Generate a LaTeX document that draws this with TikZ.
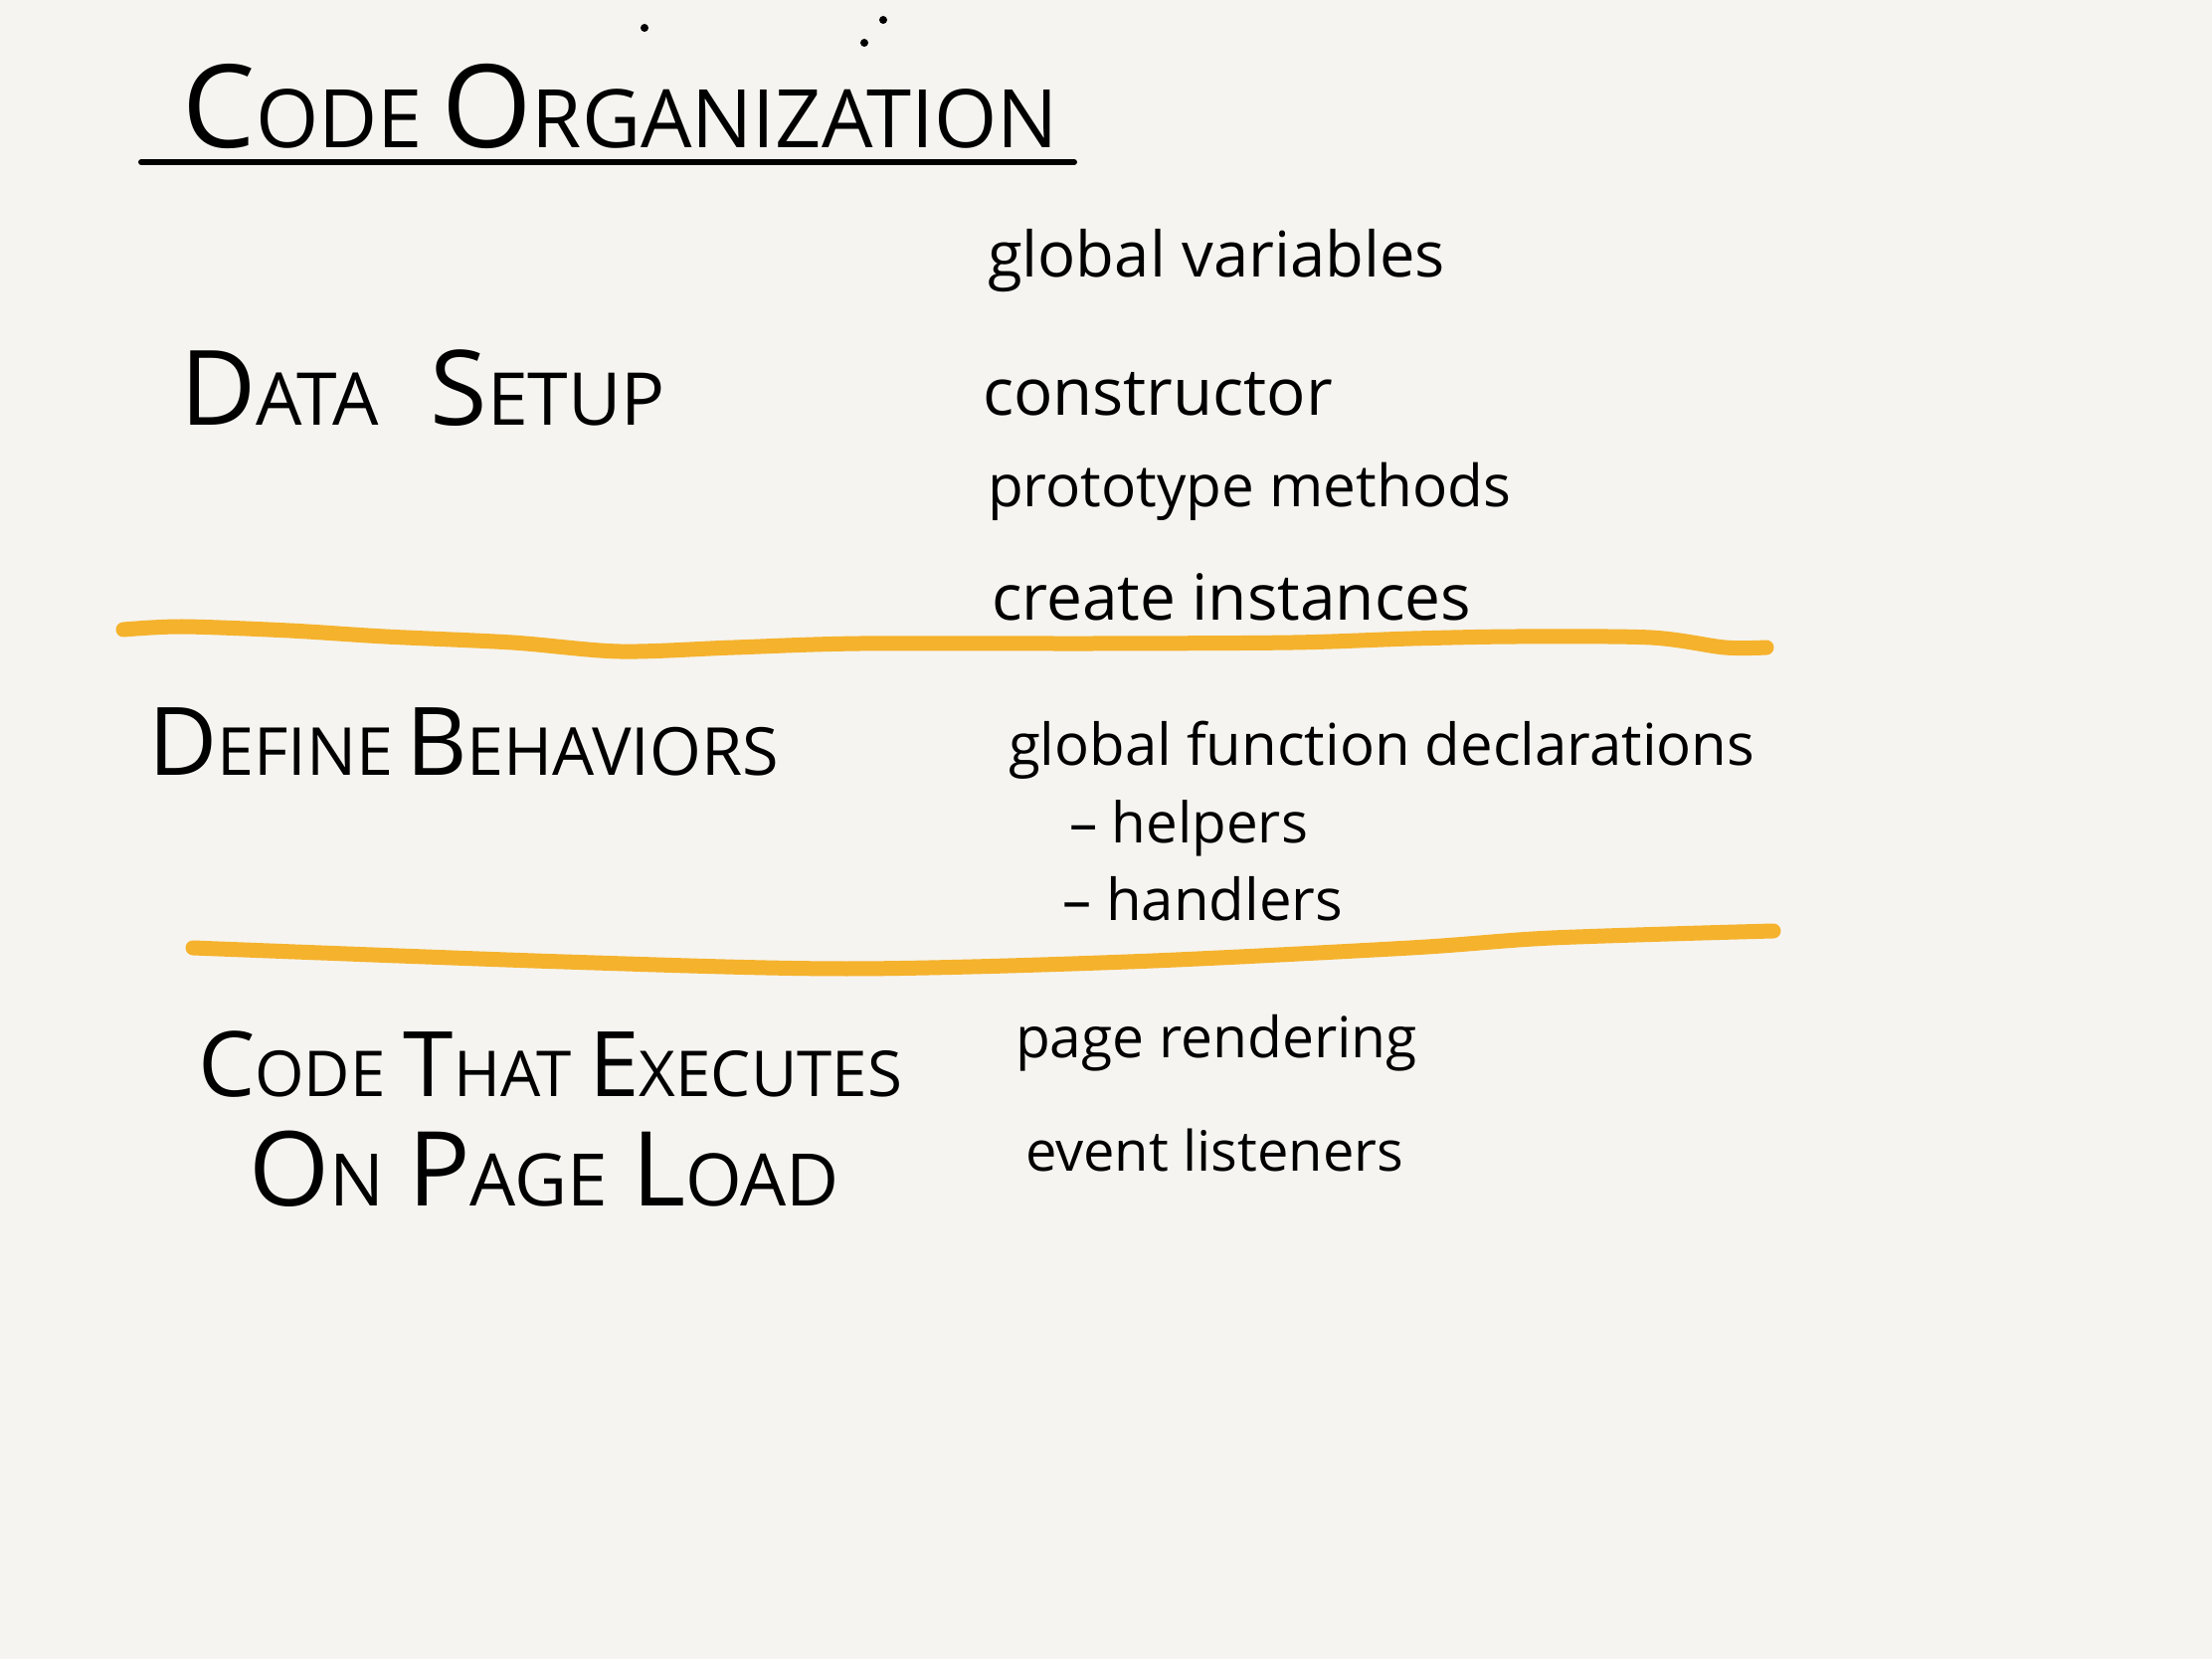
\documentclass[tikz,border=0pt]{standalone}
\usepackage{fontspec}
\setmainfont{Open Sans}
\usepackage{graphicx}
\definecolor{paper}{HTML}{F5F4F0}
\definecolor{marker}{HTML}{F5B22D}
\newcommand\hsc[2]{{\fontsize{60}{60}\selectfont #1}{\fontsize{42}{42}\selectfont #2}}
\newcommand\fitw[2]{\resizebox{#1}{!}{#2}}
\begin{document}
\begin{tikzpicture}[x=0.5pt,y=-0.5pt,
  txt/.style={anchor=base west, inner sep=0pt, outer sep=0pt, text=black},
  marks/.style={draw=marker, line width=7.5pt, line cap=round, line join=round},
  rule/.style={draw=black, line width=3pt, line cap=round}]
\fill[paper] (0,0) rectangle (2224,1668);
\useasboundingbox (0,0) rectangle (2224,1668);

% title
\node[txt] (title) at (184,149) {\fitw{440pt}{\hsc{C}{ODE}\hspace{10pt}\hsc{O}{RGANIZATION}}};
\coordinate (ulA) at (142,163);
\coordinate (ulB) at (1080,163);
\draw[rule] (ulA) -- (ulB);
\fill (648,28) circle[radius=4];
\fill (869,43) circle[radius=4];
\fill (888,20) circle[radius=4];

% section 1
\node[txt] (data) at (181,428) {\fitw{244pt}{\hsc{D}{ATA}\hspace{30pt}\hsc{S}{ETUP}}};
\node[txt] (gv) at (993,279) {\fitw{230pt}{global variables}};
\node[txt] (ctor) at (988,418) {\fitw{176pt}{constructor}};
\node[txt] (proto) at (993,510) {\fitw{263pt}{prototype methods}};
\node[txt] (inst) at (997,624) {\fitw{241pt}{create instances}};

\draw[marks] plot[smooth, tension=0.5] coordinates {(124,633) (183,630) (291,634) (387,640) (515,646) (623,655) (738,651) (865,647) (1100,647) (1300,646) (1420,642) (1525,640) (1660,641) (1734,651) (1776,651)};

% section 2
\node[txt] (beh) at (149,780) {\fitw{317pt}{\hsc{D}{EFINE}\hspace{8pt}\hsc{B}{EHAVIORS}}};
\node[txt] (gfd) at (1014,770) {\fitw{375pt}{global function declarations}};
\node[txt] (help) at (1075,848) {\fitw{120pt}{– helpers}};
\node[txt] (hand) at (1068,925) {\fitw{141pt}{– handlers}};

\draw[marks] plot[smooth, tension=0.5] coordinates {(194,953) (567,967) (851,974) (1134,967) (1418,953) (1560,943) (1783,936)};

% section 3
\node[txt] (exec) at (199,1102) {\fitw{354pt}{\hsc{C}{ODE}\hspace{12pt}\hsc{T}{HAT}\hspace{12pt}\hsc{E}{XECUTES}}};
\node[txt] (load) at (250,1212) {\fitw{297pt}{\hsc{O}{N}\hspace{14pt}\hsc{P}{AGE}\hspace{14pt}\hsc{L}{OAD}}};
\node[txt] (render) at (1021,1063) {\fitw{202pt}{page rendering}};
\node[txt] (listen) at (1031,1177) {\fitw{190pt}{event listeners}};
\end{tikzpicture}
\end{document}
